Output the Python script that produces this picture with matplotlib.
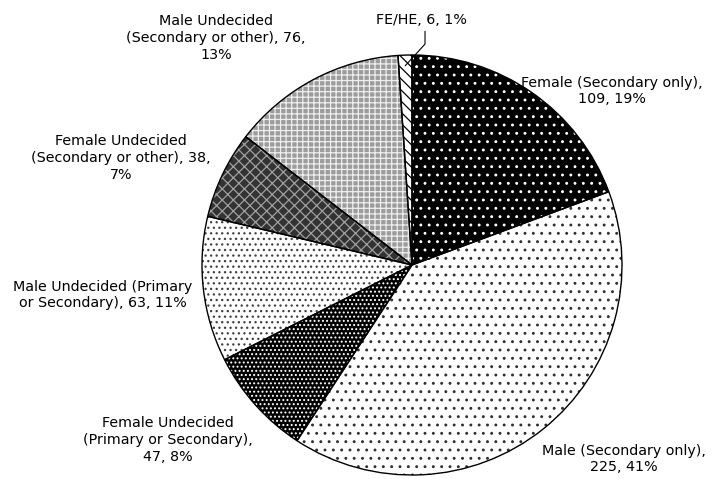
import matplotlib.pyplot as plt
import numpy as np

categories = ['Female (Secondary only)', 'Male (Secondary only)',
              'Female Undecided (Primary or Secondary)', 'Male Undecided (Primary or Secondary)',
              'Female Undecided (Secondary or other)', 'Male Undecided (Secondary or other)',
              'FE/HE']
counts = [109, 225, 47, 63, 38, 76, 6]
pct_labels = ['19%', '41%', '8%', '11%', '7%', '13%', '1%']
label_texts = ['Female (Secondary only),\n109, 19%',
               'Male (Secondary only),\n225, 41%',
               'Female Undecided\n(Primary or Secondary),\n47, 8%',
               'Male Undecided (Primary\nor Secondary), 63, 11%',
               'Female Undecided\n(Secondary or other), 38,\n7%',
               'Male Undecided\n(Secondary or other), 76,\n13%',
               'FE/HE, 6, 1%']

# styles: face, hatch colour, hatch
faces = ['black', 'white', 'black', 'white', '#333333', '#9c9c9c', 'white']
hatch_cols = ['white', '#303030', 'white', '#404040', '#a0a0a0', '#eeeeee', 'black']
hatches = ['..', '..', '....', '...', 'xxx', '+++', '\\\\\\']

# label positions (axes data units, pie radius = 1)
label_pos = [(0.952, 0.829), (1.01, -0.924), (-1.162, -0.833), (-1.471, -0.143),
             (-1.386, 0.51), (-0.933, 1.081), (0.045, 1.167)]

plt.rcParams['hatch.linewidth'] = 0.9
fig = plt.figure(figsize=(7.26, 4.79), dpi=100)
ax = fig.add_axes([202 / 726, 4 / 479, 420 / 726, 420 / 479])

wedges, _ = ax.pie(counts, startangle=90, counterclock=False, radius=1)
for w, fc, hc, h in zip(wedges, faces, hatch_cols, hatches):
    w.set_facecolor(fc)
    w.set_edgecolor(hc)
    w.set_hatch(h)
    w.set_linewidth(0)

# outlines
ax.pie(counts, startangle=90, counterclock=False, radius=1,
       wedgeprops=dict(fill=False, edgecolor='black', linewidth=1.0))

for txt, (x, y) in zip(label_texts, label_pos):
    ax.text(x, y, txt, ha='center', va='center', fontsize=10.3,
            family='DejaVu Sans', linespacing=1.25, clip_on=False)

# leader line for FE/HE
ang = np.deg2rad(90 - 360 * (sum(counts) - counts[-1] / 2) / sum(counts))
ax.plot([0.062, 0.062, 0.95 * np.cos(ang)], [1.112, 1.052, 0.95 * np.sin(ang)],
        color='black', lw=0.8, clip_on=False)

ax.set_xlim(-1, 1)
ax.set_ylim(-1, 1)
ax.set_aspect('equal')
ax.axis('off')

plt.savefig('out.png', dpi=100)
